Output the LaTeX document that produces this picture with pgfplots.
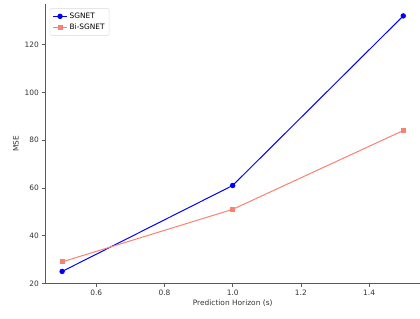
\documentclass[border=0pt]{standalone}
\usepackage{pgfplots}
\pgfplotsset{compat=1.18}
\usepackage{fontspec}
\setmainfont{DejaVu Sans}
\definecolor{salmon}{RGB}{250,128,114}
\definecolor{spine}{RGB}{90,90,90}
\begin{document}
\begin{tikzpicture}
\begin{axis}[
  at={(0,0)}, anchor=south west,
  scale only axis, width=376bp, height=281bp,
  xmin=0.452, xmax=1.548, ymin=20, ymax=137,
  axis x line*=bottom, axis y line*=left,
  axis line style={spine, line width=0.8pt},
  xtick={0.6,0.8,1.0,1.2,1.4},
  xticklabels={0.6,0.8,1.0,1.2,1.4},
  ytick={20,40,60,80,100,120},
  tick align=outside, tick style={spine, line width=0.6pt}, major tick length=3.5bp,
  tick label style={font=\fontsize{7.5}{8}\selectfont, text=black!80},
  /pgf/number format/assume math mode=true,
  xlabel={Prediction Horizon (s)}, ylabel={MSE},
  label style={font=\fontsize{7.5}{8}\selectfont, text=black!80},
  xlabel style={yshift=3bp}, ylabel style={yshift=-1bp},
  legend style={at={(0.011,0.985)}, anchor=north west, draw=black!15, rounded corners=1.5pt,
    font=\fontsize{7.5}{8}\selectfont, fill=white, inner sep=2.5pt, row sep=0pt},
  legend image code/.code={
    \draw[mark repeat=2,mark phase=2] plot coordinates {(0cm,0cm) (0.25cm,0cm) (0.5cm,0cm)};},
  legend cell align=left,
  clip=false,
]
\addplot[blue, line width=1pt, mark=*, mark size=2.2pt, mark options={solid}] coordinates {(0.5,25) (1.0,61) (1.5,132)};
\addlegendentry{SGNET}
\addplot[salmon, line width=1pt, mark=square*, mark size=2pt] coordinates {(0.5,29) (1.0,51) (1.5,84)};
\addlegendentry{Bi-SGNET}
\end{axis}
\useasboundingbox (-46bp,-35bp) rectangle (374bp,285bp);
\end{tikzpicture}
\end{document}
